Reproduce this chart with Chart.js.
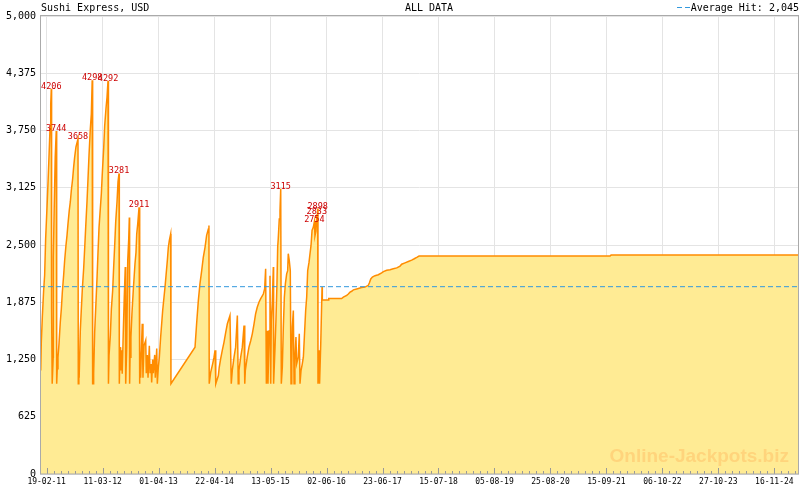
<!DOCTYPE html>
<html>
<head>
<meta charset="utf-8">
<title>Sushi Express, USD</title>
<script src="https://cdn.jsdelivr.net/npm/chart.js@4.4.1/dist/chart.umd.min.js"></script>
<style>
    html, body { margin: 0; padding: 0; background: #fff; }
</style>
</head>
<body>
<canvas id="jackpotChart" width="800" height="490"></canvas>
<script>
// Jours depuis le 19-02-11 et montant du jackpot (USD)
var days = [
    -41, -37, -30, -21, -14, -7, 2, 9, 16, 23, 28, 32,
    34, 38, 45, 46, 52, 59, 66, 69,
    73, 78, 85, 94, 101, 108, 117, 124, 133, 140, 147, 156, 163, 170, 179, 186, 193, 202, 216, 218,
    222, 224, 232, 239, 246, 255, 262, 269, 278, 285, 292, 301, 308, 314, 317,
    320, 324, 331, 338, 347, 354, 361, 370, 377, 383, 393, 400, 409, 416, 423, 426,
    430, 439, 446, 455, 462, 469, 476, 485, 492, 499, 501,
    506, 510, 517, 521, 528, 535, 542, 545, 552, 559, 566, 570, 572,
    575, 581, 588, 597, 609, 616, 621, 628, 637, 640,
    643, 648, 652, 659, 664, 671, 683, 687, 694, 699, 708, 713, 720, 724, 731, 735, 745, 749, 759, 763,
    770, 777, 786, 793, 800, 809, 816, 823, 832, 839, 846, 855, 857,
    1023, 1034, 1046, 1057, 1069, 1080, 1092, 1103, 1115, 1119, 1121,
    1131, 1145, 1154, 1161, 1166, 1184, 1190, 1200, 1211, 1223, 1235, 1246, 1264, 1273,
    1280, 1292, 1303, 1315, 1321, 1326, 1338, 1349, 1361, 1366,
    1370, 1383, 1395, 1407, 1418, 1430, 1441, 1452, 1464, 1476, 1494, 1503, 1510, 1515,
    1521, 1526, 1535, 1540, 1545, 1549, 1556, 1563, 1565, 1574, 1581, 1588, 1593, 1597, 1604, 1609, 1614, 1618,
    1625, 1632, 1639, 1646, 1655, 1662, 1666, 1673, 1680, 1685, 1690, 1694, 1701, 1706,
    1712, 1719, 1724, 1735, 1742, 1747, 1754, 1763, 1770, 1777, 1786, 1793, 1800, 1809, 1816, 1823, 1830, 1839,
    1846, 1850, 1857, 1863, 1864, 1869, 1871, 1878, 1882, 1890, 1899, 1901,
    1942, 1945, 2034, 2046, 2069, 2080, 2092, 2103, 2115, 2138, 2172, 2195, 2218, 2225, 2235, 2246, 2264,
    2287, 2310, 2322, 2345, 2368, 2390, 2414, 2437, 2448, 2471, 2494, 2517, 2535, 2552, 2568,
    3885, 3892, 5188
];
var values = [
    1130, 1440, 1710, 2000, 2170, 2570, 2900, 3170, 3460, 3770, 4040, 4206,
    1800, 985, 1275, 2370, 2910, 3460, 3744, 985,
    1150, 1275, 1420, 1660, 1800, 1985, 2170, 2330, 2495, 2600, 2730, 2880, 2970, 3095, 3220, 3350, 3460, 3570, 3658, 985,
    1330, 1050, 1570, 1800, 2020, 2240, 2460, 2690, 2970, 3220, 3480, 3770, 3930, 4298, 985,
    985, 1100, 1550, 1800, 2130, 2420, 2690, 2900, 3060, 3260, 3550, 3800, 3990, 4110, 4292, 985,
    1295, 1510, 1800, 2000, 2260, 2495, 2750, 2970, 3190, 3281, 985,
    1385, 1130, 1350, 1095, 1530, 1930, 2260, 985, 1385, 2330, 2570, 2800, 985,
    1275, 1495, 1750, 2000, 2295, 2420, 2620, 2730, 2911, 985,
    1350, 1050, 1300, 1640, 1050, 1400, 1460, 1100, 1300, 1050, 1400, 1100, 1200, 1000, 1250, 1100, 1300, 1050, 1370, 985,
    1165, 1275, 1495, 1640, 1785, 1930, 2040, 2165, 2330, 2475, 2550, 2620, 985,
    1385, 1640, 1895, 2075, 2220, 2365, 2475, 2605, 2675, 2713, 985,
    1110, 1205, 1275, 1350, 985, 1075, 1165, 1260, 1350, 1440, 1550, 1640, 1730, 985,
    1130, 1275, 1385, 1730, 985, 1130, 1275, 1385, 1620, 985,
    1130, 1275, 1385, 1455, 1530, 1640, 1750, 1820, 1875, 1915, 1965, 2020, 2240, 985,
    1565, 985, 1565, 2165, 985, 1675, 1875, 2260, 985, 1350, 1675, 2075, 2475, 2570, 2785, 2875, 3115, 985,
    1165, 1605, 1930, 2075, 2185, 2220, 2405, 2330, 2220, 985, 1205, 1605, 1785, 985,
    1240, 1495, 1205, 1275, 1530, 985, 1130, 1205, 1275, 1495, 1785, 1930, 2220, 2310, 2405, 2495, 2660, 2695,
    2754, 2600, 2650, 2833, 2700, 2898, 985, 1350, 985, 1420, 2040, 1900,
    1900, 1915, 1915, 1930, 1950, 1965, 1985, 1995, 2010, 2020, 2035, 2040, 2060, 2085, 2130, 2150, 2165,
    2175, 2195, 2210, 2225, 2230, 2240, 2250, 2270, 2290, 2305, 2320, 2335, 2350, 2365, 2380,
    2380, 2390, 2390
];

// Gros gains annotés
var hitDays = [32, 66, 216, 314, 423, 499, 637, 1614, 1846, 1863, 1869];
var hitValues = [4206, 3744, 3658, 4298, 4292, 3281, 2911, 3115, 2754, 2833, 2898];

// Axes
var xTickDays = [0, 386, 772, 1158, 1544, 1930, 2316, 2702, 3088, 3474, 3860, 4246, 4632, 5018];
var xTickLabels = ["19-02-11", "11-03-12", "01-04-13", "22-04-14", "13-05-15", "02-06-16", "23-06-17",
    "15-07-18", "05-08-19", "25-08-20", "15-09-21", "06-10-22", "27-10-23", "16-11-24"];
var yMax = 5000;
var yStep = 625;
var xMin = -46;
var xMax = 5188;

var avgHit = 2045;
var chartTitle = "Sushi Express, USD";
var chartSubtitle = "ALL DATA";

document.addEventListener("DOMContentLoaded", function () {
    Chart.defaults.font.family = "'DejaVu Sans Mono', monospace";

    var points = days.map(function (d, i) { return { x: d, y: values[i] }; });

    var decor = {
        id: "decor",
        afterDraw: function (chart) {
            var ctx = chart.ctx;
            var area = chart.chartArea;
            var xs = chart.scales.x;
            var ys = chart.scales.y;
            ctx.save();

            // filigrane
            ctx.font = "bold 19px 'Liberation Sans', Arial, sans-serif";
            ctx.fillStyle = "#ffd47c";
            ctx.textAlign = "right";
            ctx.textBaseline = "alphabetic";
            ctx.fillText("Online-Jackpots.biz", area.right - 10, area.bottom - 12);

            // montants des gros gains
            ctx.font = "8.5px 'DejaVu Sans Mono', monospace";
            ctx.fillStyle = "#cc0000";
            ctx.textAlign = "center";
            for (var i = 0; i < hitDays.length; i++) {
                ctx.fillText(String(hitValues[i]), xs.getPixelForValue(hitDays[i]), ys.getPixelForValue(hitValues[i]));
            }

            // petites graduations en bas
            var step = (xTickDays[1] - xTickDays[0]) / 8;
            var k0 = Math.ceil((xs.min - xTickDays[0]) / step);
            ctx.strokeStyle = "#999";
            ctx.lineWidth = 1;
            ctx.beginPath();
            for (var k = k0; xTickDays[0] + k * step <= xs.max; k++) {
                var px = Math.round(xs.getPixelForValue(xTickDays[0] + k * step)) + 0.5;
                var len = (k % 8 === 0) ? 6 : 3;
                ctx.moveTo(px, area.bottom);
                ctx.lineTo(px, area.bottom - len);
            }
            ctx.stroke();

            // cadre
            ctx.strokeStyle = "#aaa";
            ctx.strokeRect(area.left + 0.5, area.top - 0.5, area.right - area.left - 1, area.bottom - area.top + 0.5);

            // en-tête
            ctx.font = "10px 'DejaVu Sans Mono', monospace";
            ctx.fillStyle = "#000";
            ctx.textAlign = "left";
            ctx.fillText(chartTitle, 41, 11);
            ctx.textAlign = "center";
            ctx.fillText(chartSubtitle, 429, 11);
            ctx.textAlign = "right";
            ctx.fillText("Average Hit: " + avgHit.toLocaleString("en-US"), 799, 11);
            ctx.strokeStyle = "#3399dd";
            ctx.beginPath();
            ctx.moveTo(677, 7.5); ctx.lineTo(682, 7.5);
            ctx.moveTo(685, 7.5); ctx.lineTo(690, 7.5);
            ctx.stroke();

            ctx.restore();
        }
    };

    var ctx1 = document.getElementById("jackpotChart").getContext("2d");
    var jackpotChart = new Chart(ctx1, {
        type: "line",
        data: {
            datasets: [{
                label: "Jackpot",
                data: points,
                borderColor: "#ff8c00",
                borderWidth: 1.5,
                backgroundColor: "#ffeb94",
                fill: "origin",
                pointRadius: 0,
                tension: 0,
                order: 1
            }, {
                label: "Average Hit",
                data: [{ x: xMin, y: avgHit }, { x: xMax, y: avgHit }],
                borderColor: "#3399dd",
                borderWidth: 1,
                borderDash: [5, 3],
                fill: false,
                pointRadius: 0,
                order: 0
            }]
        },
        options: {
            responsive: false,
            animation: false,
            layout: { padding: { top: 16, right: 1, left: 0, bottom: 0 } },
            plugins: {
                legend: { display: false },
                tooltip: { enabled: false }
            },
            scales: {
                x: {
                    type: "linear",
                    min: xMin,
                    max: xMax,
                    afterBuildTicks: function (scale) {
                        scale.ticks = xTickDays.map(function (d) { return { value: d }; });
                    },
                    afterFit: function (scale) { scale.height = 16; },
                    ticks: {
                        autoSkip: false,
                        maxRotation: 0,
                        padding: 3,
                        color: "#000",
                        font: { size: 8 },
                        callback: function (v, i) { return xTickLabels[i]; }
                    },
                    grid: { color: "#e4e4e4", drawTicks: false },
                    border: { display: false }
                },
                y: {
                    min: 0,
                    max: yMax,
                    afterFit: function (scale) { scale.width = 40; },
                    ticks: {
                        stepSize: yStep,
                        padding: 4,
                        color: "#000",
                        font: { size: 10 },
                        callback: function (v) { return v.toLocaleString("en-US"); }
                    },
                    grid: { color: "#e4e4e4", drawTicks: false },
                    border: { display: false }
                }
            }
        },
        plugins: [decor]
    });
});
</script>
</body>
</html>
